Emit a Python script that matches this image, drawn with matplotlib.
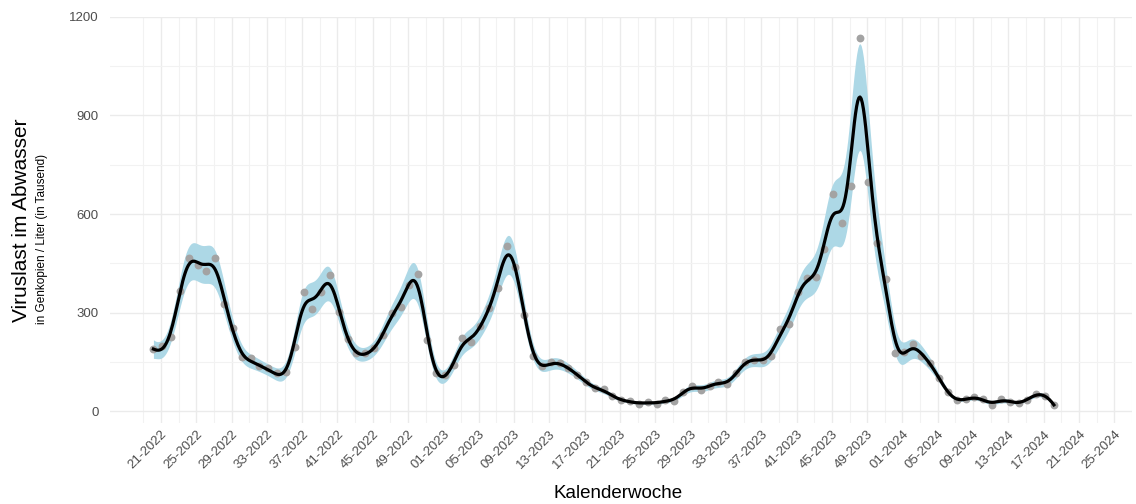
import numpy as np
import matplotlib.pyplot as plt

plt.rcParams['font.family'] = ['Liberation Sans', 'DejaVu Sans']

# weekly viral load in wastewater (gene copies per litre, thousands), from week 20-2022 on
viruslast = [189, 199, 225, 367, 466, 445, 427, 466, 327, 253,
             165, 162, 138, 131, 116, 119, 195, 364, 311, 364,
             415, 303, 220, 178, 178, 192, 232, 300, 319, 385,
             417, 217, 116, 111, 141, 222, 212, 260, 314, 374,
             503, 440, 293, 170, 139, 150, 146, 131, 112, 90,
             70, 67, 46, 35, 31, 24, 29, 24, 35, 33,
             58, 77, 65, 78, 91, 83, 116, 149, 158, 158,
             169, 250, 266, 364, 405, 410, 493, 661, 574, 686,
             1134, 697, 511, 403, 179, 182, 206, 170, 147, 101,
             58, 35, 38, 43, 37, 20, 38, 30, 25, 35,
             53, 47, 20]

week_labels = ['21-2022', '25-2022', '29-2022', '33-2022', '37-2022', '41-2022',
               '45-2022', '49-2022', '01-2023', '05-2023', '09-2023', '13-2023',
               '17-2023', '21-2023', '25-2023', '29-2023', '33-2023', '37-2023',
               '41-2023', '45-2023', '49-2023', '01-2024', '05-2024', '09-2024',
               '13-2024', '17-2024', '21-2024', '25-2024']


def local_quadratic(x, y, x_eval, h):
    # kernel-weighted local quadratic fit; also returns sum of squared weights
    fit = np.empty(len(x_eval))
    lsq = np.empty(len(x_eval))
    for j, x0 in enumerate(x_eval):
        w = np.exp(-0.5 * ((x - x0) / h) ** 2)
        X = np.column_stack([np.ones_like(x), x - x0, (x - x0) ** 2])
        A = X.T @ (w[:, None] * X)
        l = np.linalg.solve(A, X.T * w)[0]
        fit[j] = l @ y
        lsq[j] = l @ l
    return fit, lsq


x = np.arange(len(viruslast), dtype=float)
y = np.array(viruslast, dtype=float)

h = 1.05
fit_pts, _ = local_quadratic(x, y, x, h)
resid = y - fit_pts

xs = np.linspace(x[0], x[-1], 800)
fit, lsq = local_quadratic(x, y, xs, h)

# band: local residual spread plus a relative part
bw = 1.5
s2 = np.array([np.sum(np.exp(-0.5 * ((x - x0) / bw) ** 2) * resid ** 2) /
               np.sum(np.exp(-0.5 * ((x - x0) / bw) ** 2)) for x0 in xs])
half = 0.9 * np.sqrt(s2 * lsq) + 0.10 * np.abs(fit)
lower = fit - half
upper = fit + half

fig = plt.figure(figsize=(11.36, 5.04), dpi=100)
ax = fig.add_axes([110 / 1136, 1 - 423 / 504, 1022 / 1136, 406.3 / 504])

tick_pos = 0.85 + 4 * np.arange(len(week_labels))
minor_pos = np.arange(-1.15, 112, 2.0)

ax.fill_between(xs, lower, upper, color='#add8e6', lw=0, zorder=2)
ax.scatter(x, y, s=32, color='#a3a3a3', lw=0, zorder=3)
ax.plot(xs, fit, color='black', lw=2.3, zorder=4)

ax.set_xlim(-4.92, 109.4)
ax.set_ylim(-35, 1200)
ax.set_yticks([0, 300, 600, 900, 1200])
ax.set_yticks([150, 450, 750, 1050], minor=True)
ax.set_xticks(tick_pos)
ax.set_xticks(minor_pos, minor=True)
ax.set_xticklabels(week_labels, rotation=45, ha='right', va='top',
                   rotation_mode='anchor', fontsize=9.5, color='#4d4d4d')
ax.tick_params(axis='y', labelsize=9.5, labelcolor='#4d4d4d', pad=8)
ax.tick_params(which='both', length=0)
ax.tick_params(axis='x', pad=4)
ax.grid(which='major', color='#ebebeb', lw=1.0, zorder=0)
ax.grid(which='minor', color='#f2f2f2', lw=0.8, zorder=0)
for s in ax.spines.values():
    s.set_visible(False)

fig.text(21.7 / 1136, 1 - 220 / 504, 'Viruslast im Abwasser', rotation=90,
         ha='center', va='center', fontsize=15, color='black')
fig.text(41.7 / 1136, 1 - 238.5 / 504, 'in Genkopien / Liter (in Tausend)',
         rotation=90, ha='center', va='center', fontsize=8.5, color='black')
fig.text(618 / 1136, 1 - 493 / 504, 'Kalenderwoche', ha='center', va='center',
         fontsize=13.5, color='black')

fig.savefig('out.png', dpi=100)
